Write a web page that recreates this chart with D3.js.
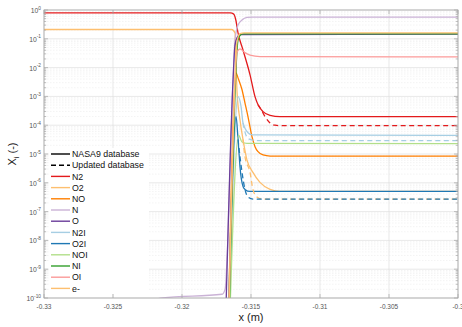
<!DOCTYPE html>
<html>
<head>
<meta charset="utf-8">
<script src="https://cdn.jsdelivr.net/npm/d3@7"></script>
<style>
  body { margin: 0; background: #fff; }
  svg { font-family: "Liberation Sans", Arial, Helvetica, sans-serif; }
</style>
</head>
<body>
<div id="chart"></div>
<script>
// ---- data: [x (m), mole fraction] ----
var species = ["N2", "O2", "NO", "N", "O", "N2I", "O2I", "NOI", "NI", "OI", "e-"];
var colors = ["#e31a1c", "#fdbf6f", "#ff7f00", "#cab2d6", "#6a3d9a", "#a6cee3",
  "#1f78b4", "#b2df8a", "#33a02c", "#fb9a99", "#fdbf6f"];

var xTicks = [-0.33, -0.325, -0.32, -0.315, -0.31, -0.305, -0.3];
var xTickLabels = ["-0.33", "-0.325", "-0.32", "-0.315", "-0.31", "-0.305", "-0.3"];
var yExponents = [0, -1, -2, -3, -4, -5, -6, -7, -8, -9, -10];

// NASA9 database (solid)
var nasaN2 = [[-0.33, 0.79], [-0.3165, 0.79], [-0.31625, 0.72], [-0.3161, 0.45], [-0.31594, 0.16],
  [-0.31558, 0.041], [-0.31507, 0.0056], [-0.31471, 9.8e-4], [-0.31449, 5.1e-4], [-0.31413, 2.95e-4],
  [-0.31362, 2.2e-4], [-0.3129, 2.0e-4], [-0.3, 2.0e-4]];
var nasaO2 = [[-0.33, 0.21], [-0.3164, 0.21], [-0.31616, 0.16], [-0.31608, 0.0107], [-0.31601, 1.35e-3],
  [-0.3158, 1.56e-4], [-0.31558, 3.2e-5], [-0.3153, 6.4e-6], [-0.31486, 2.3e-6], [-0.31435, 1.03e-6],
  [-0.31362, 5.9e-7], [-0.3129, 5.0e-7], [-0.3, 5.0e-7]];
var nasaNO = [[-0.31668, 1e-12], [-0.31608, 6.6e-3], [-0.31594, 4.4e-3], [-0.31565, 1.7e-3],
  [-0.31544, 6.0e-4], [-0.31522, 2.0e-4], [-0.31493, 4.0e-5], [-0.31471, 1.8e-5], [-0.31449, 1.2e-5],
  [-0.31413, 9.3e-6], [-0.31362, 8.5e-6], [-0.3, 8.5e-6]];
var nasaN = [[-0.33, 1e-12], [-0.3214, 1e-10], [-0.3171, 1.35e-10], [-0.31688, 2e-10], [-0.3163, 3.8e-3],
  [-0.31616, 0.092], [-0.31594, 0.30], [-0.31565, 0.45], [-0.3153, 0.55], [-0.3149, 0.57], [-0.3, 0.57]];
var nasaO = [[-0.3169, 1e-12], [-0.3163, 3.8e-3], [-0.31616, 0.06], [-0.31601, 0.11], [-0.3158, 0.14],
  [-0.3, 0.145]];
var nasaN2I = [[-0.31665, 1e-12], [-0.31594, 9.8e-4], [-0.31572, 4.4e-4], [-0.31558, 1.2e-4],
  [-0.31522, 5.5e-5], [-0.3149, 4.6e-5], [-0.3, 4.4e-5]];
var nasaO2I = [[-0.3167, 1e-12], [-0.31608, 2e-4], [-0.31594, 3.2e-5], [-0.31587, 1.1e-5],
  [-0.3158, 3.7e-6], [-0.31558, 7.5e-7], [-0.31544, 5.9e-7], [-0.31507, 5.0e-7], [-0.3, 5.0e-7]];
var nasaNOI = [[-0.31662, 1e-12], [-0.3159, 4.5e-5], [-0.31565, 2.6e-5], [-0.3153, 2.35e-5],
  [-0.3, 2.3e-5]];
var nasaNI = [[-0.31665, 1e-12], [-0.31594, 0.09], [-0.3158, 0.13], [-0.31558, 0.148], [-0.3, 0.148]];
var nasaOI = [[-0.31667, 1e-12], [-0.31601, 0.035], [-0.3158, 0.045], [-0.31544, 0.033],
  [-0.31507, 0.027], [-0.31435, 0.024], [-0.3, 0.0236]];
var nasaE = [[-0.31667, 1e-12], [-0.31601, 0.08], [-0.3158, 0.15], [-0.3155, 0.16], [-0.3, 0.16]];

// Updated database (dashed), only where it departs from NASA9
var updN2 = [[-0.31449, 5.1e-4], [-0.31435, 4.1e-4], [-0.31399, 2.0e-4], [-0.31362, 1.2e-4],
  [-0.31326, 1.0e-4], [-0.3129, 9.7e-5], [-0.3, 9.7e-5]];
var updO2 = [[-0.31558, 3.2e-5], [-0.31544, 8.2e-6], [-0.31507, 2.3e-6], [-0.31486, 5.9e-7],
  [-0.31457, 3.2e-7], [-0.31413, 2.7e-7], [-0.3, 2.7e-7]];
var updN2I = [[-0.31558, 1.2e-4], [-0.31536, 4.5e-5], [-0.31507, 3.2e-5], [-0.3145, 2.9e-5],
  [-0.3, 2.9e-5]];
var updO2I = [[-0.31594, 3.2e-5], [-0.31565, 2.3e-6], [-0.31544, 6.0e-7], [-0.31522, 3.2e-7],
  [-0.31486, 2.7e-7], [-0.3, 2.7e-7]];

var nasa = [nasaN2, nasaO2, nasaNO, nasaN, nasaO, nasaN2I, nasaO2I, nasaNOI, nasaNI, nasaOI, nasaE];
var updated = [updN2, updO2, null, null, null, updN2I, updO2I, null, null, null, null];

// ---- layout ----
var W = 462, H = 327,
  margin = { top: 10, right: 4, bottom: 29, left: 44 },
  width = W - margin.left - margin.right,
  height = H - margin.top - margin.bottom;

var svg = d3.select("#chart").append("svg")
  .attr("width", W)
  .attr("height", H);

var g = svg.append("g")
  .attr("transform", "translate(" + margin.left + "," + margin.top + ")");

var x = d3.scaleLinear().domain([-0.33, -0.3]).range([0, width]);
var y = d3.scaleLog().domain([1e-10, 1]).range([height, 0]);

var majorY = yExponents.map(function (e) { return Math.pow(10, e); });
var minorY = [];
yExponents.slice(1).forEach(function (e) {
  for (var k = 2; k <= 9; k++) minorY.push(k * Math.pow(10, e));
});

// grid
g.append("g").selectAll("line.minor")
  .data(minorY)
  .join("line")
  .attr("x1", 0).attr("x2", width)
  .attr("y1", d => y(d)).attr("y2", d => y(d))
  .attr("stroke", "#ececec")
  .attr("stroke-width", 0.6)
  .attr("stroke-dasharray", "1.5,1.5");

g.append("g").selectAll("line.major")
  .data(majorY)
  .join("line")
  .attr("x1", 0).attr("x2", width)
  .attr("y1", d => y(d)).attr("y2", d => y(d))
  .attr("stroke", "#e0e0e0")
  .attr("stroke-width", 0.7);

g.append("g").selectAll("line.xgrid")
  .data(xTicks)
  .join("line")
  .attr("x1", d => x(d)).attr("x2", d => x(d))
  .attr("y1", 0).attr("y2", height)
  .attr("stroke", "#dedede")
  .attr("stroke-width", 0.7);

// lines
g.append("clipPath").attr("id", "clip")
  .append("rect").attr("width", width).attr("height", height);

var line = d3.line()
  .x(d => x(d[0]))
  .y(d => y(d[1]))
  .curve(d3.curveMonotoneX);

var plot = g.append("g").attr("clip-path", "url(#clip)");

species.forEach(function (s, i) {
  plot.append("path")
    .datum(nasa[i])
    .attr("fill", "none")
    .attr("stroke", colors[i])
    .attr("stroke-width", 1.3)
    .attr("d", line);
});
species.forEach(function (s, i) {
  if (!updated[i]) return;
  plot.append("path")
    .datum(updated[i])
    .attr("fill", "none")
    .attr("stroke", colors[i])
    .attr("stroke-width", 1.3)
    .attr("stroke-dasharray", "5,3.5")
    .attr("d", line);
});

// box and ticks
var boxColor = "#a6a6a6";
g.append("rect")
  .attr("width", width).attr("height", height)
  .attr("fill", "none")
  .attr("stroke", boxColor)
  .attr("stroke-width", 0.8);

var ticks = g.append("g").attr("stroke", boxColor).attr("stroke-width", 0.7);
xTicks.forEach(function (t) {
  ticks.append("line").attr("x1", x(t)).attr("x2", x(t)).attr("y1", height).attr("y2", height - 4);
  ticks.append("line").attr("x1", x(t)).attr("x2", x(t)).attr("y1", 0).attr("y2", 4);
});
majorY.forEach(function (t) {
  ticks.append("line").attr("x1", 0).attr("x2", 4).attr("y1", y(t)).attr("y2", y(t));
  ticks.append("line").attr("x1", width).attr("x2", width - 4).attr("y1", y(t)).attr("y2", y(t));
});
minorY.forEach(function (t) {
  ticks.append("line").attr("x1", 0).attr("x2", 2.2).attr("y1", y(t)).attr("y2", y(t));
  ticks.append("line").attr("x1", width).attr("x2", width - 2.2).attr("y1", y(t)).attr("y2", y(t));
});

// tick labels
g.append("g").selectAll("text")
  .data(xTicks)
  .join("text")
  .attr("x", d => x(d))
  .attr("y", height + 11)
  .attr("text-anchor", "middle")
  .attr("font-size", 6.5)
  .attr("fill", "#555")
  .text((d, i) => xTickLabels[i]);

var yl = g.append("g").selectAll("text")
  .data(yExponents)
  .join("text")
  .attr("x", -3)
  .attr("y", d => y(Math.pow(10, d)) + 3)
  .attr("text-anchor", "end")
  .attr("font-size", 6.8)
  .attr("fill", "#555");
yl.append("tspan").text("10");
yl.append("tspan")
  .attr("dy", -3.5)
  .attr("font-size", 4.8)
  .text(d => d === 0 ? "0" : "-" + Math.abs(d));

// axis titles
svg.append("text")
  .attr("x", margin.left + width / 2)
  .attr("y", H - 6)
  .attr("text-anchor", "middle")
  .attr("font-size", 11)
  .attr("fill", "#222")
  .text("x (m)");

var yt = svg.append("text")
  .attr("transform", "translate(16," + (margin.top + height / 2) + ") rotate(-90)")
  .attr("text-anchor", "middle")
  .attr("font-size", 11)
  .attr("fill", "#222");
yt.append("tspan").text("X");
yt.append("tspan").attr("font-size", 7.5).attr("dy", 2.5).text("i");
yt.append("tspan").attr("dy", -2.5).text(" (-)");

// legend
var legendLabels = ["NASA9 database", "Updated database"].concat(species);
var legendColors = ["#000", "#000"].concat(colors);
var legendDash = [null, "5,3"].concat(species.map(() => null));

var legend = svg.append("g").attr("transform", "translate(49,148)");
legend.append("rect")
  .attr("width", 100).attr("height", 146)
  .attr("fill", "#fff");

var row = legend.selectAll("g")
  .data(legendLabels)
  .join("g")
  .attr("transform", (d, i) => "translate(0," + (6 + i * 11.2) + ")");
row.append("line")
  .attr("x1", 2).attr("x2", 21)
  .attr("stroke", (d, i) => legendColors[i])
  .attr("stroke-width", 1.4)
  .attr("stroke-dasharray", (d, i) => legendDash[i]);
row.append("text")
  .attr("x", 23)
  .attr("y", 3.2)
  .attr("font-size", 8.8)
  .attr("fill", "#111")
  .text(d => d);
</script>
</body>
</html>
